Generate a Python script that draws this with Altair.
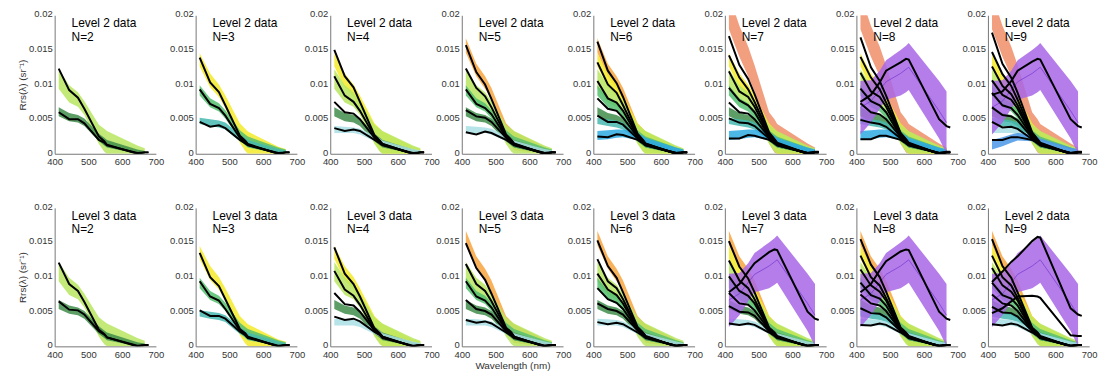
import altair as alt
import pandas as pd

FONT = "Liberation Sans"
SC = 1e-3  # values below are in units of 1e-3 sr^-1

WL_LINE = [412, 443, 469, 488, 531, 547, 555, 645, 667, 678]
WL_BAND = [412, 443, 469, 488, 531, 547, 555, 645, 667]

CLASS_NAMES = ["salmon", "orange", "yellow", "lime", "green", "dkgreen",
               "teal", "cyanlight", "blue", "blue2", "purple"]
CLASS_COLORS = ["#ef8e68", "#f8a540", "#f3ea2a", "#b9e660", "#55c070", "#3f8d4a",
                "#45b8b0", "#aadfe4", "#2eaae2", "#4a98e6", "#a866e6"]
BAND_HI = [
    [23.0, 18.5, 15.5, 12.8, 6.0, 5.0, 4.3, 1.5, 0.9],
    [16.7, 13.0, 11.2, 9.5, 4.4, 3.6, 3.2, 1.0, 0.6],
    [14.5, 11.6, 10.0, 8.4, 4.4, 3.6, 3.2, 1.0, 0.7],
    [12.2, 9.9, 8.9, 7.6, 4.2, 3.6, 3.3, 1.2, 0.8],
    [9.9, 8.0, 7.3, 6.3, 3.4, 2.8, 2.5, 0.9, 0.6],
    [6.7, 5.9, 5.6, 5.1, 2.9, 2.3, 2.0, 0.6, 0.4],
    [5.2, 5.0, 4.8, 4.5, 2.8, 2.3, 2.0, 0.7, 0.5],
    [4.0, 3.9, 3.8, 3.6, 2.6, 2.2, 1.9, 0.7, 0.5],
    [3.3, 3.4, 3.5, 3.5, 3.0, 2.6, 2.3, 0.9, 0.6],
    [2.0, 2.4, 2.8, 3.0, 2.8, 2.5, 2.2, 0.9, 0.6],
    [10.5, 10.6, 12.0, 13.5, 15.0, 15.6, 16.0, 10.5, 9.0],
]
BAND_LO = [
    [18.0, 14.0, 11.2, 9.0, 1.5, 0.2, 0.0, 0.0, 0.0],
    [14.6, 11.2, 9.4, 7.8, 2.2, 1.0, 0.5, 0.0, 0.0],
    [12.6, 9.6, 8.2, 6.6, 1.6, 0.4, 0.0, 0.0, 0.0],
    [9.4, 7.4, 6.8, 5.6, 1.4, 0.3, 0.0, 0.0, 0.0],
    [8.4, 6.7, 6.1, 5.1, 2.0, 1.2, 0.9, 0.0, 0.0],
    [5.4, 4.7, 4.5, 4.0, 1.8, 1.2, 0.9, 0.0, 0.0],
    [4.3, 4.0, 3.8, 3.5, 1.8, 1.3, 1.0, 0.1, 0.1],
    [3.0, 3.0, 3.0, 2.8, 1.8, 1.4, 1.1, 0.1, 0.1],
    [2.0, 2.1, 2.3, 2.4, 2.0, 1.6, 1.4, 0.2, 0.1],
    [0.6, 1.1, 1.6, 1.9, 1.8, 1.5, 1.3, 0.2, 0.1],
    [2.8, 4.5, 6.5, 7.8, 8.4, 8.9, 9.2, 2.2, 0.0],
]
PURPLE_MID = [6.7, 7.6, 9.2, 10.4, 11.6, 12.2, 12.5, 6.2, 4.5]

PANEL_LEVEL = ["Level 2 data"] * 8 + ["Level 3 data"] * 7 + ["Level 2 data"]
PANEL_N = [2, 3, 4, 5, 6, 7, 8, 9, 2, 3, 4, 5, 6, 7, 8, 9]

PANEL_BANDS = [
    ["lime", "dkgreen"],
    ["yellow", "green", "teal"],
    ["yellow", "lime", "dkgreen", "cyanlight"],
    ["orange", "lime", "green", "dkgreen", "cyanlight"],
    ["orange", "yellow", "lime", "green", "dkgreen", "teal", "blue"],
    ["salmon", "yellow", "lime", "green", "dkgreen", "teal", "blue"],
    ["salmon", "yellow", "lime", "green", "dkgreen", "teal", "blue", "purple"],
    ["salmon", "yellow", "lime", "green", "dkgreen", "teal", "cyanlight", "blue2", "purple"],
    ["lime", "dkgreen"],
    ["yellow", "green", "teal"],
    ["yellow", "lime", "dkgreen", "cyanlight"],
    ["orange", "lime", "green", "dkgreen", "cyanlight"],
    ["orange", "lime", "green", "dkgreen", "cyanlight"],
    ["orange", "yellow", "lime", "green", "dkgreen", "cyanlight", "purple"],
    ["orange", "yellow", "lime", "green", "dkgreen", "teal", "cyanlight", "purple"],
    ["orange", "yellow", "lime", "green", "dkgreen", "teal", "cyanlight", "purple"],
]

PANEL_LINES = [
    [[12.3, 9.2, 8.1, 6.5, 2.5, 1.8, 1.3, 0.0, 0.2, 0.2],
     [6.0, 5.0, 5.0, 4.4, 2.0, 1.6, 1.2, 0.1, 0.2, 0.2]],
    [[13.9, 10.3, 8.9, 7.0, 2.6, 1.9, 1.4, 0.0, 0.2, 0.2],
     [9.3, 7.2, 6.6, 5.5, 2.3, 1.7, 1.3, 0.0, 0.2, 0.2],
     [4.6, 3.9, 4.1, 3.7, 2.0, 1.5, 1.2, 0.1, 0.2, 0.2]],
    [[15.0, 11.2, 9.6, 7.5, 2.7, 1.9, 1.4, 0.0, 0.2, 0.2],
     [11.2, 8.4, 7.5, 6.2, 2.5, 1.8, 1.4, 0.0, 0.2, 0.2],
     [7.5, 6.0, 5.8, 5.0, 2.3, 1.7, 1.3, 0.0, 0.2, 0.2],
     [3.7, 3.3, 3.5, 3.3, 2.0, 1.5, 1.2, 0.1, 0.2, 0.2]],
    [[15.7, 11.8, 10.0, 7.9, 2.8, 2.0, 1.5, 0.0, 0.2, 0.2],
     [12.3, 9.5, 8.3, 6.7, 2.6, 1.9, 1.4, 0.0, 0.2, 0.2],
     [9.3, 7.2, 6.6, 5.7, 2.4, 1.8, 1.3, 0.0, 0.2, 0.2],
     [6.3, 5.4, 5.2, 4.6, 2.3, 1.7, 1.3, 0.1, 0.2, 0.2],
     [3.1, 2.8, 3.2, 3.0, 2.0, 1.5, 1.2, 0.1, 0.2, 0.2]],
    [[16.2, 12.0, 10.2, 8.2, 2.9, 2.0, 1.5, 0.0, 0.2, 0.2],
     [13.2, 10.0, 8.8, 7.0, 2.7, 1.9, 1.4, 0.0, 0.2, 0.2],
     [10.5, 8.0, 7.4, 6.2, 2.5, 1.8, 1.4, 0.0, 0.2, 0.2],
     [8.0, 6.5, 6.2, 5.2, 2.4, 1.7, 1.3, 0.1, 0.2, 0.2],
     [5.5, 4.6, 4.6, 4.2, 2.2, 1.6, 1.2, 0.1, 0.2, 0.2],
     [2.5, 2.4, 2.8, 2.7, 2.0, 1.5, 1.2, 0.1, 0.2, 0.2]],
    [[17.0, 12.8, 10.8, 8.6, 3.1, 2.1, 1.6, 0.0, 0.2, 0.2],
     [14.2, 11.0, 9.3, 7.5, 2.9, 2.0, 1.5, 0.0, 0.2, 0.2],
     [11.9, 9.0, 8.2, 6.8, 2.7, 1.9, 1.4, 0.0, 0.2, 0.2],
     [9.5, 7.7, 7.0, 6.0, 2.5, 1.8, 1.4, 0.0, 0.2, 0.2],
     [7.4, 6.0, 5.8, 5.0, 2.4, 1.7, 1.3, 0.1, 0.2, 0.2],
     [5.1, 4.5, 4.4, 4.0, 2.2, 1.6, 1.2, 0.1, 0.2, 0.2],
     [2.2, 2.2, 2.7, 2.6, 2.0, 1.5, 1.2, 0.1, 0.3, 0.3]],
    [[16.8, 12.5, 10.5, 8.4, 3.0, 2.1, 1.6, 0.0, 0.2, 0.2],
     [14.0, 11.0, 9.3, 7.4, 2.9, 2.0, 1.5, 0.0, 0.2, 0.2],
     [11.7, 9.0, 8.2, 6.8, 2.7, 1.9, 1.4, 0.0, 0.2, 0.2],
     [9.4, 7.6, 7.0, 6.0, 2.5, 1.8, 1.4, 0.0, 0.2, 0.2],
     [7.3, 6.0, 5.7, 5.0, 2.4, 1.7, 1.3, 0.1, 0.2, 0.2],
     [4.9, 4.5, 4.3, 3.9, 2.2, 1.6, 1.2, 0.1, 0.2, 0.2],
     [2.1, 2.1, 2.6, 2.6, 2.0, 1.5, 1.2, 0.1, 0.3, 0.3],
     [7.5, 8.5, 10.3, 12.0, 13.2, 13.7, 13.6, 5.0, 4.0, 3.8]],
    [[17.5, 13.0, 11.0, 8.8, 3.1, 2.1, 1.6, 0.0, 0.2, 0.2],
     [14.7, 11.5, 9.8, 7.8, 2.9, 2.0, 1.5, 0.0, 0.2, 0.2],
     [12.6, 9.8, 8.6, 7.0, 2.8, 1.9, 1.4, 0.0, 0.2, 0.2],
     [10.6, 8.5, 7.8, 6.5, 2.6, 1.9, 1.4, 0.0, 0.2, 0.2],
     [8.8, 7.0, 6.6, 5.6, 2.5, 1.8, 1.3, 0.0, 0.2, 0.2],
     [6.7, 5.6, 5.4, 4.8, 2.3, 1.7, 1.3, 0.1, 0.2, 0.2],
     [4.6, 3.8, 3.9, 3.6, 2.1, 1.6, 1.2, 0.1, 0.2, 0.2],
     [2.0, 2.0, 2.4, 2.4, 2.0, 1.5, 1.2, 0.1, 0.3, 0.3],
     [8.5, 9.0, 10.5, 12.0, 13.3, 13.7, 13.6, 5.0, 4.0, 3.8]],
    [[12.1, 9.0, 8.0, 6.4, 2.4, 1.8, 1.3, 0.0, 0.2, 0.2],
     [6.5, 5.3, 5.2, 4.6, 2.2, 1.7, 1.3, 0.1, 0.2, 0.2]],
    [[13.5, 10.0, 8.7, 6.8, 2.5, 1.9, 1.4, 0.0, 0.2, 0.2],
     [9.4, 7.2, 6.6, 5.4, 2.3, 1.7, 1.3, 0.0, 0.2, 0.2],
     [5.2, 4.4, 4.4, 4.0, 2.1, 1.6, 1.2, 0.1, 0.2, 0.2]],
    [[14.3, 10.5, 9.0, 7.2, 2.6, 1.9, 1.4, 0.0, 0.2, 0.2],
     [10.9, 8.2, 7.3, 6.0, 2.4, 1.8, 1.4, 0.0, 0.2, 0.2],
     [7.7, 6.1, 5.9, 5.0, 2.3, 1.7, 1.3, 0.0, 0.2, 0.2],
     [4.3, 3.8, 4.0, 3.6, 2.1, 1.6, 1.2, 0.1, 0.2, 0.2]],
    [[14.9, 11.3, 9.6, 7.6, 2.7, 2.0, 1.4, 0.0, 0.2, 0.2],
     [11.9, 9.0, 8.0, 6.5, 2.6, 1.9, 1.4, 0.0, 0.2, 0.2],
     [9.4, 7.2, 6.6, 5.6, 2.4, 1.8, 1.3, 0.0, 0.2, 0.2],
     [6.7, 5.4, 5.1, 4.6, 2.2, 1.7, 1.3, 0.1, 0.2, 0.2],
     [3.8, 3.4, 3.6, 3.3, 2.0, 1.5, 1.2, 0.1, 0.2, 0.2]],
    [[15.3, 11.6, 9.9, 7.8, 2.8, 2.0, 1.5, 0.0, 0.2, 0.2],
     [12.6, 9.4, 8.4, 6.8, 2.6, 1.9, 1.4, 0.0, 0.2, 0.2],
     [10.5, 8.2, 7.4, 6.2, 2.5, 1.8, 1.4, 0.0, 0.2, 0.2],
     [8.4, 6.8, 6.3, 5.4, 2.4, 1.7, 1.3, 0.1, 0.2, 0.2],
     [6.2, 5.4, 5.1, 4.6, 2.3, 1.7, 1.3, 0.1, 0.2, 0.2],
     [3.5, 3.2, 3.4, 3.2, 2.0, 1.5, 1.2, 0.1, 0.2, 0.2]],
    [[15.2, 11.5, 9.8, 7.8, 2.7, 2.0, 1.5, 0.0, 0.2, 0.2],
     [12.4, 9.5, 8.4, 6.8, 2.6, 1.9, 1.4, 0.0, 0.2, 0.2],
     [10.1, 8.0, 7.3, 6.2, 2.5, 1.8, 1.4, 0.0, 0.2, 0.2],
     [7.7, 6.2, 6.0, 5.2, 2.4, 1.7, 1.3, 0.1, 0.2, 0.2],
     [5.8, 5.0, 4.9, 4.4, 2.2, 1.7, 1.3, 0.1, 0.2, 0.2],
     [3.3, 3.1, 3.3, 3.1, 2.0, 1.5, 1.2, 0.1, 0.2, 0.2],
     [7.8, 9.0, 10.8, 12.0, 13.6, 14.0, 13.9, 5.0, 4.0, 3.8]],
    [[15.5, 11.8, 10.0, 7.9, 2.7, 2.0, 1.5, 0.0, 0.2, 0.2],
     [13.1, 10.0, 8.8, 7.0, 2.6, 1.9, 1.4, 0.0, 0.2, 0.2],
     [11.1, 8.8, 7.9, 6.6, 2.5, 1.8, 1.4, 0.0, 0.2, 0.2],
     [9.2, 7.4, 6.9, 5.9, 2.4, 1.8, 1.3, 0.0, 0.2, 0.2],
     [7.5, 6.2, 5.9, 5.1, 2.3, 1.7, 1.3, 0.1, 0.2, 0.2],
     [5.5, 4.8, 4.7, 4.2, 2.2, 1.6, 1.2, 0.1, 0.2, 0.2],
     [3.1, 3.0, 3.3, 3.1, 2.0, 1.5, 1.2, 0.1, 0.2, 0.2],
     [7.8, 9.0, 11.0, 12.3, 13.7, 14.0, 13.9, 5.0, 4.0, 3.8]],
    [[15.5, 11.6, 9.9, 7.8, 2.7, 2.0, 1.5, 0.0, 0.2, 0.2],
     [13.1, 10.0, 8.8, 7.0, 2.6, 1.9, 1.4, 0.0, 0.2, 0.2],
     [11.3, 8.8, 7.9, 6.6, 2.5, 1.8, 1.4, 0.0, 0.2, 0.2],
     [9.2, 7.4, 6.9, 5.9, 2.4, 1.8, 1.3, 0.0, 0.2, 0.2],
     [7.5, 6.2, 5.9, 5.1, 2.3, 1.7, 1.3, 0.1, 0.2, 0.2],
     [5.7, 4.9, 4.8, 4.3, 2.2, 1.6, 1.2, 0.1, 0.2, 0.2],
     [3.2, 3.0, 3.3, 3.1, 2.0, 1.5, 1.2, 0.1, 0.2, 0.2],
     [4.8, 5.5, 6.5, 7.2, 7.3, 7.2, 7.0, 1.6, 1.5, 1.5],
     [9.3, 10.8, 12.2, 13.0, 15.2, 15.8, 15.7, 5.5, 4.6, 4.4]],
]

X_TICKS = [400, 500, 600, 700]
Y_TICKS = [0, 0.005, 0.01, 0.015, 0.02]
Y_TITLE = "Rrs(\u03bb) (sr\u207b\u00b9)"
X_TITLE = "Wavelength (nm)"

PANEL_W = 102
PANEL_H = 139.5


def make_panel(i):
    row, col = divmod(i, 8)
    xs = alt.Scale(domain=[400, 700], nice=False, zero=False)
    ys = alt.Scale(domain=[0, 0.02], nice=False)
    xaxis = alt.Axis(values=X_TICKS, title=X_TITLE if (row == 1 and col == 3) else None,
                     labelFlush=False, labelOverlap=False, format="d", labelPadding=3)
    yaxis = alt.Axis(values=Y_TICKS, title=Y_TITLE if col == 0 else None,
                     format="~g", labelOverlap=False, labelPadding=2.5, labelOffset=-1.5)
    layers = []
    for cls in PANEL_BANDS[i]:
        k = CLASS_NAMES.index(cls)
        df = pd.DataFrame({"wl": WL_BAND,
                           "lo": [v * SC for v in BAND_LO[k]],
                           "hi": [v * SC for v in BAND_HI[k]]})
        layers.append(
            alt.Chart(df).mark_area(color=CLASS_COLORS[k], opacity=0.85, clip=True).encode(
                x=alt.X("wl:Q", scale=xs, axis=xaxis),
                y=alt.Y("lo:Q", scale=ys, axis=yaxis),
                y2="hi:Q",
            )
        )
        if cls == "purple":
            mdf = pd.DataFrame({"wl": WL_BAND, "v": [v * SC for v in PURPLE_MID]})
            layers.append(
                alt.Chart(mdf).mark_line(color="#7a3fd0", strokeWidth=0.8, clip=True).encode(
                    x=alt.X("wl:Q", scale=xs, axis=xaxis),
                    y=alt.Y("v:Q", scale=ys, axis=yaxis),
                )
            )
    rows = []
    for j, vals in enumerate(PANEL_LINES[i]):
        for w, v in zip(WL_LINE, vals):
            rows.append({"id": j, "wl": w, "v": v * SC})
    layers.append(
        alt.Chart(pd.DataFrame(rows)).mark_line(color="black", strokeWidth=2, clip=True).encode(
            x=alt.X("wl:Q", scale=xs, axis=xaxis),
            y=alt.Y("v:Q", scale=ys, axis=yaxis),
            detail="id:N",
        )
    )
    t1 = alt.Chart(pd.DataFrame({"t": [PANEL_LEVEL[i]]})).mark_text(
        align="left", baseline="alphabetic", font=FONT, fontSize=12, color="black"
    ).encode(x=alt.value(17), y=alt.value(12), text="t:N")
    t2 = alt.Chart(pd.DataFrame({"t": ["N=%d" % PANEL_N[i]]})).mark_text(
        align="left", baseline="alphabetic", font=FONT, fontSize=12, color="black"
    ).encode(x=alt.value(17), y=alt.value(25.5), text="t:N")
    layers += [t1, t2]
    return alt.layer(*layers).properties(width=PANEL_W, height=PANEL_H)


def make_row(r):
    ps = [make_panel(r * 8 + c) for c in range(8)]
    inner = alt.hconcat(*ps[2:], spacing=30.5, bounds="flush")
    mid = alt.hconcat(ps[1], inner, spacing=33.6, bounds="flush")
    return alt.hconcat(ps[0], mid, spacing=40, bounds="flush")


chart = alt.vconcat(make_row(0), make_row(1), spacing=35).properties(
    padding={"left": 9, "top": -1, "right": 5, "bottom": 0}
).configure_view(stroke=None).configure_axis(
    domainColor="#777777", domainWidth=1, ticks=False, grid=False,
    labelFont=FONT, labelFontSize=9.5, labelColor="#333333",
    titleFont=FONT, titleFontSize=10, titleFontWeight="normal", titleColor="#333333",
).configure_axisY(titlePadding=1).configure_axisX(titlePadding=2)

chart.save("out.html", embed_options={"renderer": "svg", "actions": False})
